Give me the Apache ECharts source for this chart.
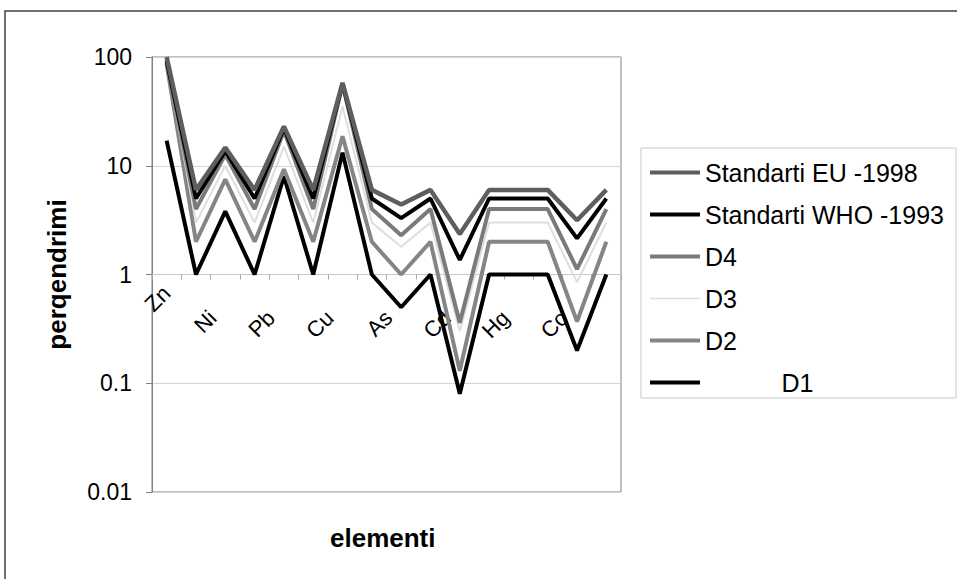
<!DOCTYPE html>
<html>
<head>
<meta charset="utf-8">
<script src="https://cdn.jsdelivr.net/npm/echarts@6/dist/echarts.min.js"></script>
<style>
html,body{margin:0;padding:0;background:#fff;}
#chart{width:957px;height:579px;}
</style>
</head>
<body>
<div id="chart"></div>
<script>
// Categories (every other label shown on the axis)
var categories = ['Zn', '', 'Ni', '', 'Pb', '', 'Cu', '', 'As', '', 'Cd', '', 'Hg', '', 'Co', ''];
// Y-axis tick labels (log scale)
var yTicks = [0.01, 0.1, 1, 10, 100];

// Series values (plotted levels)
var euValues  = [100, 6, 14.7, 6, 23, 6, 58, 6, 4.4, 6, 2.36, 6, 6, 6, 3.15, 6];
var whoValues = [92, 5, 13.7, 5, 22, 5, 57, 5, 3.3, 5, 1.36, 5, 5, 5, 2.15, 5];
var d4Values  = [90, 4, 12.7, 4, 21, 4, 56, 4, 2.3, 4, 0.36, 4, 4, 4, 1.12, 4];
var d3Values  = [88, 3, 10, 3, 15, 3, 35, 3, 1.8, 3, 0.3, 3, 3, 3, 0.85, 3];
var d2Values  = [86, 2, 7.5, 2, 9.3, 2, 18.7, 2, 1.0, 2, 0.13, 2, 2, 2, 0.37, 2];
var d1Values  = [17, 1, 3.8, 1, 8.0, 1, 13.2, 1, 0.5, 1, 0.08, 1, 1, 1, 0.2, 1];

var seriesNames = ['Standarti EU -1998', 'Standarti WHO -1993', 'D4', 'D3', 'D2', 'D1'];

var FONT = "'Liberation Sans', Arial, sans-serif";
var chart = echarts.init(document.getElementById('chart'), null, {renderer: 'svg'});

function mk(name, data, color, width) {
  return {
    name: name, type: 'line', data: data, symbol: 'none', showSymbol: false,
    clip: true, animation: false,
    lineStyle: {color: color, width: width},
    itemStyle: {color: color}
  };
}

var thick = 'path://M0,0H50V4H0Z';
var thin = 'path://M0,0H50V1.6H0Z';

var option = {
  animation: false,
  backgroundColor: '#fff',
  textStyle: {fontFamily: FONT},
  graphic: [
    {type: 'rect', shape: {x: 5, y: 11, width: 1100, height: 1100}, style: {fill: 'none', stroke: '#404040', lineWidth: 1.5}, silent: true},
    {type: 'text', left: 330, top: 525, style: {text: 'elementi', fontSize: 26, fontWeight: 'bold', fontFamily: FONT, fill: '#000'}}
  ],
  grid: {left: 152, top: 57, width: 469, height: 435, show: true, borderColor: '#808080', borderWidth: 1, backgroundColor: '#fff'},
  legend: {
    orient: 'vertical', left: 641, top: 148,
    data: [
      {name: seriesNames[0], icon: thick},
      {name: seriesNames[1], icon: thick},
      {name: seriesNames[2], icon: thick},
      {name: seriesNames[3], icon: thin},
      {name: seriesNames[4], icon: thick},
      {name: seriesNames[5], icon: thick}
    ],
    itemWidth: 50, itemHeight: 4, itemGap: 17,
    symbolKeepAspect: true,
    padding: [12, 12, 3, 9],
    borderColor: '#c8c8c8', borderWidth: 1, backgroundColor: '#fff',
    textStyle: {fontSize: 25, color: '#000', fontFamily: FONT},
    formatter: function (n) { return n === 'D1' ? '\u00a0\u00a0\u00a0\u00a0\u00a0\u00a0\u00a0\u00a0\u00a0\u00a0\u00a0D1' : n; }
  },
  xAxis: {
    type: 'category', data: categories, boundaryGap: true,
    offset: -217.5,
    axisLine: {show: true, lineStyle: {color: '#c8c8c8', width: 1}},
    axisTick: {show: true, interval: 0, alignWithLabel: false, length: 5, lineStyle: {color: '#a8a8a8'}},
    axisLabel: {interval: 1, rotate: 45, fontSize: 22, color: '#000', margin: 15, fontFamily: FONT,
      formatter: function (v) { return v === 'Zn' ? '{z|' + v + '}' : '{n|' + v + '}'; },
      rich: {
        z: {fontSize: 22, fontFamily: FONT, color: '#000', padding: [0, 0, 0, 0]},
        n: {fontSize: 22, fontFamily: FONT, color: '#000', padding: [17, 26.5, 0, 0]}
      }
    },
    splitLine: {show: false}
  },
  yAxis: {
    type: 'log', logBase: 10, min: yTicks[0], max: yTicks[yTicks.length - 1],
    name: 'perqendrimi', nameLocation: 'middle', nameRotate: 90, nameGap: 82,
    nameTextStyle: {fontSize: 26, fontWeight: 'bold', color: '#000', fontFamily: FONT},
    axisLine: {show: true, lineStyle: {color: '#808080'}},
    axisTick: {show: true, length: 6, lineStyle: {color: '#808080'}},
    axisLabel: {fontSize: 23, color: '#000', margin: 20, fontFamily: FONT,
      formatter: function (v) { return String(v); }},
    splitLine: {show: true, lineStyle: {color: '#d4d4d4', width: 1}},
    minorTick: {show: false}, minorSplitLine: {show: false}
  },
  series: [
    mk('D1', d1Values, '#000000', 4),
    mk('D2', d2Values, '#858585', 4),
    mk('D3', d3Values, '#dedede', 2),
    mk('D4', d4Values, '#7a7a7a', 4),
    mk('Standarti WHO -1993', whoValues, '#000000', 4),
    mk('Standarti EU -1998', euValues, '#5e5e5e', 4.5)
  ]
};
chart.setOption(option);
</script>
</body>
</html>
